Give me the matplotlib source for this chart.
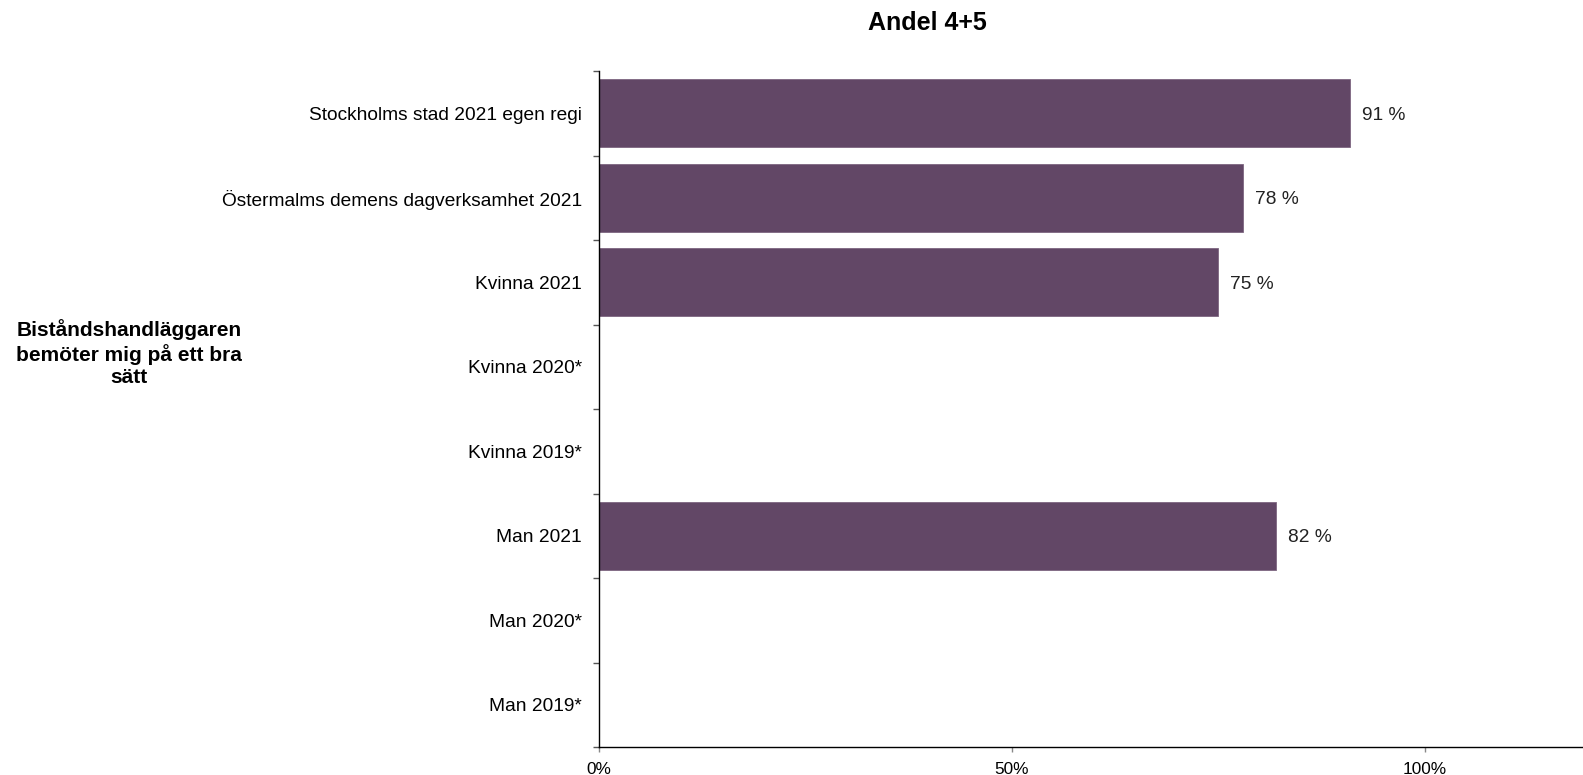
import matplotlib
matplotlib.use("Agg")
import matplotlib.pyplot as plt
import numpy as np

plt.rcParams["font.family"] = ["Liberation Sans", "DejaVu Sans"]

categories = [
    "Stockholms stad 2021 egen regi",
    "Östermalms demens dagverksamhet 2021",
    "Kvinna 2021",
    "Kvinna 2020*",
    "Kvinna 2019*",
    "Man 2021",
    "Man 2020*",
    "Man 2019*",
]
values = [91, 78, 75, np.nan, np.nan, 82, np.nan, np.nan]
xticks = [0, 50, 100]
xtick_labels = ["0%", "50%", "100%"]
title = "Andel 4+5"
question = "Biståndshandläggaren\nbemöter mig på ett bra\nsätt"

BAR = "#624766"
W, H = 1583, 775

fig = plt.figure(figsize=(W / 100, H / 100), dpi=100)
ax = fig.add_axes([599 / W, 1 - 747 / H, 1 - 599 / W, (747 - 71) / H])

y = np.arange(len(categories))
vals = np.array(values, dtype=float)
ax.barh(y, np.nan_to_num(vals), height=0.8, color=BAR, edgecolor="#7d6680", linewidth=0.6)

for yi, v in zip(y, vals):
    if not np.isnan(v):
        ax.annotate(f"{v:.0f} %", xy=(v, yi), xytext=(8.6, 0), textcoords="offset points",
                    ha="left", va="center_baseline", fontsize=13.8, color="#222222")

ax.set_xlim(0, 119.2)
ax.set_ylim(len(categories) - 0.5, -0.5)

ax.set_yticks(y)
ax.set_yticklabels(categories, fontsize=13.8)
ax.tick_params(axis="y", which="major", length=0, pad=12.5)
ax.set_yticks(np.arange(-0.5, len(categories)), minor=True)
ax.tick_params(axis="y", which="minor", length=4.3, width=1, color="#555555", direction="out")

ax.set_xticks(xticks)
ax.set_xticklabels(xtick_labels, fontsize=12.4)
ax.tick_params(axis="x", length=3.6, width=1, color="#888888", pad=7)

for s in ["top", "right"]:
    ax.spines[s].set_visible(False)
for s in ["left", "bottom"]:
    ax.spines[s].set_linewidth(1)
    ax.spines[s].set_color("black")

fig.text(927 / W, 1 - 23 / H, title, ha="center", va="center", fontsize=18, fontweight="bold")
fig.text(129 / W, 1 - 353 / H, question, ha="center", va="center", fontsize=15,
         fontweight="bold", linespacing=1.25)

fig.savefig("out.png", dpi=100)
